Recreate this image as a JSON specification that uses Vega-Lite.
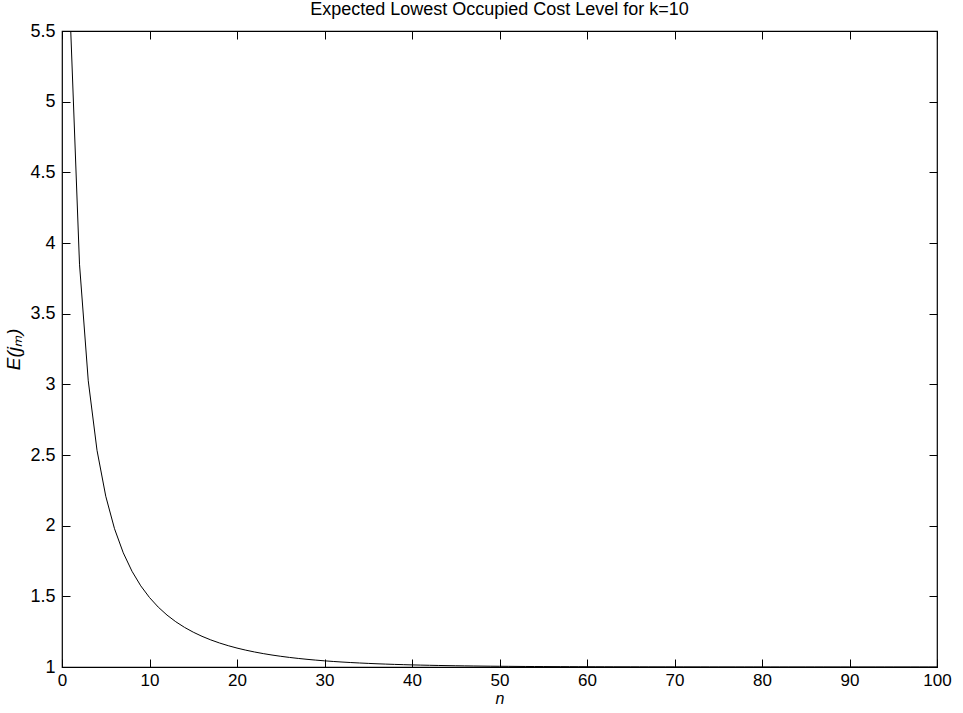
{
  "$schema": "https://vega.github.io/schema/vega-lite/v6.json",
  "width": 875,
  "height": 636,
  "autosize": {"type": "none"},
  "padding": {"left": 62, "top": 31, "right": 26, "bottom": 46},
  "background": "white",
  "config": {
    "font": "Liberation Sans",
    "view": {"stroke": "black", "strokeWidth": 1.2},
    "axis": {"grid": false, "domain": false, "tickColor": "black", "tickSize": -8, "tickWidth": 1, "labelColor": "black", "labelFont": "Liberation Sans", "labelFontSize": 18, "labelFlush": false, "titleColor": "black", "titleFont": "Liberation Sans", "titleFontSize": 18, "titleFontStyle": "italic", "titleFontWeight": "normal"},
    "title": {"font": "Liberation Sans", "fontSize": 18, "fontWeight": "normal", "color": "black"}
  },
  "title": {"text": "Expected Lowest Occupied Cost Level for  k=10", "offset": 3},
  "data": {"values": [
    {"n": 1, "E": 5.5}, {"n": 2, "E": 3.85}, {"n": 3, "E": 3.025}, {"n": 4, "E": 2.5333}, {"n": 5, "E": 2.20825},
    {"n": 6, "E": 1.97841}, {"n": 7, "E": 1.80804}, {"n": 8, "E": 1.67731}, {"n": 9, "E": 1.5743}, {"n": 10, "E": 1.49143},
    {"n": 11, "E": 1.42364}, {"n": 12, "E": 1.36743}, {"n": 13, "E": 1.32029}, {"n": 14, "E": 1.28038}, {"n": 15, "E": 1.24632},
    {"n": 16, "E": 1.21707}, {"n": 17, "E": 1.19179}, {"n": 18, "E": 1.16984}, {"n": 19, "E": 1.1507}, {"n": 20, "E": 1.13394},
    {"n": 21, "E": 1.11922}, {"n": 22, "E": 1.10626}, {"n": 23, "E": 1.09481}, {"n": 24, "E": 1.08468}, {"n": 25, "E": 1.0757},
    {"n": 26, "E": 1.06773}, {"n": 27, "E": 1.06063}, {"n": 28, "E": 1.05432}, {"n": 29, "E": 1.04868}, {"n": 30, "E": 1.04365},
    {"n": 31, "E": 1.03916}, {"n": 32, "E": 1.03514}, {"n": 33, "E": 1.03155}, {"n": 34, "E": 1.02832}, {"n": 35, "E": 1.02544},
    {"n": 36, "E": 1.02286}, {"n": 37, "E": 1.02054}, {"n": 38, "E": 1.01846}, {"n": 39, "E": 1.01659}, {"n": 40, "E": 1.01491},
    {"n": 41, "E": 1.01341}, {"n": 42, "E": 1.01206}, {"n": 43, "E": 1.01084}, {"n": 44, "E": 1.00975}, {"n": 45, "E": 1.00877},
    {"n": 46, "E": 1.00789}, {"n": 47, "E": 1.0071}, {"n": 48, "E": 1.00639}, {"n": 49, "E": 1.00574}, {"n": 50, "E": 1.00517},
    {"n": 51, "E": 1.00465}, {"n": 52, "E": 1.00418}, {"n": 53, "E": 1.00376}, {"n": 54, "E": 1.00339}, {"n": 55, "E": 1.00305},
    {"n": 56, "E": 1.00274}, {"n": 57, "E": 1.00247}, {"n": 58, "E": 1.00222}, {"n": 59, "E": 1.002}, {"n": 60, "E": 1.0018},
    {"n": 61, "E": 1.00162}, {"n": 62, "E": 1.00146}, {"n": 63, "E": 1.00131}, {"n": 64, "E": 1.00118}, {"n": 65, "E": 1.00106},
    {"n": 66, "E": 1.00096}, {"n": 67, "E": 1.00086}, {"n": 68, "E": 1.00077}, {"n": 69, "E": 1.0007}, {"n": 70, "E": 1.00063},
    {"n": 71, "E": 1.00056}, {"n": 72, "E": 1.00051}, {"n": 73, "E": 1.00046}, {"n": 74, "E": 1.00041}, {"n": 75, "E": 1.00037},
    {"n": 76, "E": 1.00033}, {"n": 77, "E": 1.0003}, {"n": 78, "E": 1.00027}, {"n": 79, "E": 1.00024}, {"n": 80, "E": 1.00022},
    {"n": 81, "E": 1.0002}, {"n": 82, "E": 1.00018}, {"n": 83, "E": 1.00016}, {"n": 84, "E": 1.00014}, {"n": 85, "E": 1.00013},
    {"n": 86, "E": 1.00012}, {"n": 87, "E": 1.00011}, {"n": 88, "E": 1.0001}, {"n": 89, "E": 1.00009}, {"n": 90, "E": 1.00008},
    {"n": 91, "E": 1.00007}, {"n": 92, "E": 1.00006}, {"n": 93, "E": 1.00006}, {"n": 94, "E": 1.00005}, {"n": 95, "E": 1.00005},
    {"n": 96, "E": 1.00004}, {"n": 97, "E": 1.00004}, {"n": 98, "E": 1.00003}, {"n": 99, "E": 1.00003}, {"n": 100, "E": 1.00003}
  ]},
  "layer": [
    {
      "mark": {"type": "line", "color": "black", "strokeWidth": 1, "clip": true},
      "encoding": {
        "x": {"field": "n", "type": "quantitative", "scale": {"domain": [0, 100], "nice": false, "zero": false},
              "axis": {"orient": "bottom", "values": [0,10,20,30,40,50,60,70,80,90,100], "format": "d", "title": "n", "labelFontSize": 17, "titleFontSize": 16, "labelPadding": 13, "titlePadding": 2}},
        "y": {"field": "E", "type": "quantitative", "scale": {"domain": [1, 5.5], "nice": false, "zero": false},
              "axis": {"orient": "left", "values": [1,1.5,2,2.5,3,3.5,4,4.5,5,5.5], "format": "~g", "title": "E(jₘ)", "titleFontSize": 19, "labelPadding": 15, "titlePadding": 6}}
      }
    },
    {
      "mark": {"type": "line", "opacity": 0},
      "encoding": {
        "x": {"field": "n", "type": "quantitative", "axis": {"orient": "top", "values": [0,10,20,30,40,50,60,70,80,90,100], "labels": false, "title": null}},
        "y": {"field": "E", "type": "quantitative", "axis": {"orient": "right", "values": [1,1.5,2,2.5,3,3.5,4,4.5,5,5.5], "labels": false, "title": null}}
      }
    }
  ],
  "resolve": {"axis": {"x": "independent", "y": "independent"}}
}
